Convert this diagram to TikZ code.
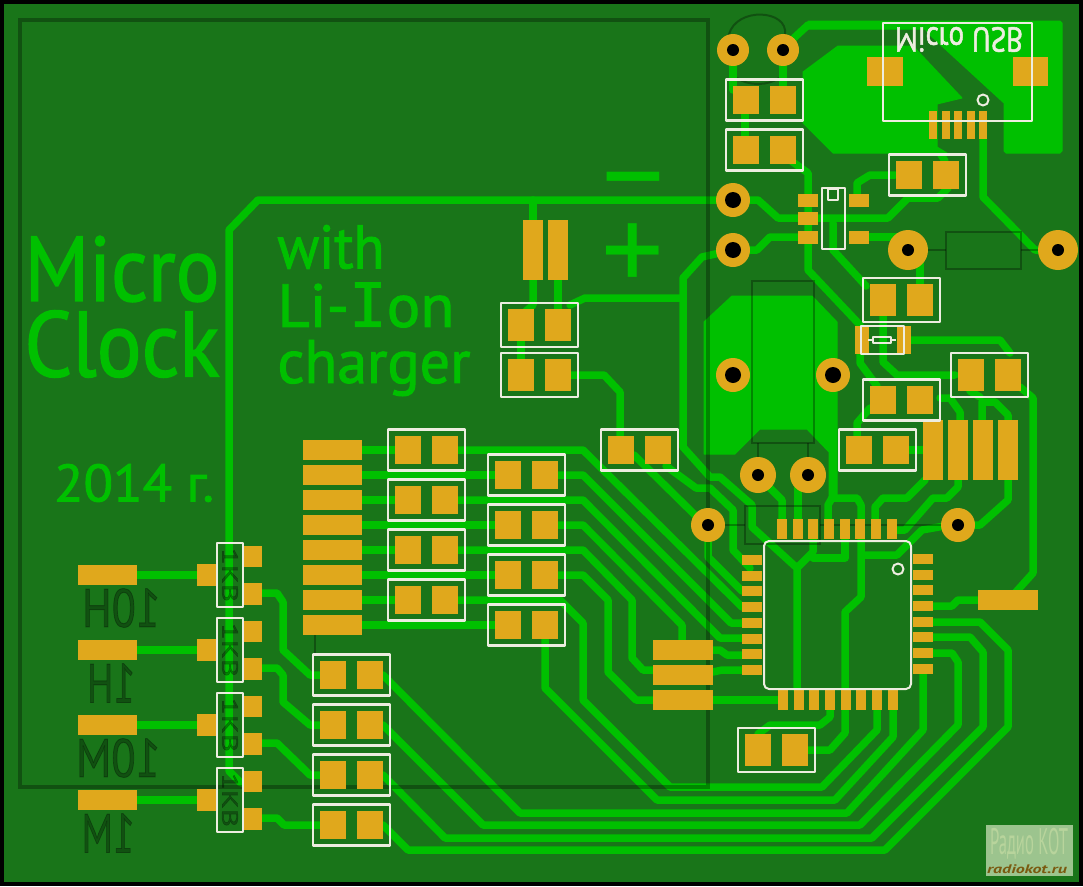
\documentclass[tikz,border=0pt]{standalone}
\usepackage{fontspec}
\usepackage{graphicx}
\setmainfont{PT Sans}
\newfontfamily\stroked[FakeBold=1.6]{PT Sans}
\newfontfamily\strokedI[FakeBold=1.2]{DejaVu Sans Mono}
\definecolor{board}{HTML}{197519}
\definecolor{copper}{HTML}{00C000}
\definecolor{padc}{HTML}{E0A81C}
\definecolor{silk}{HTML}{EDEDE0}
\definecolor{darkg}{HTML}{0B5F0B}
\definecolor{wm}{HTML}{9CC48E}
\definecolor{wmt}{HTML}{B8D49C}
\definecolor{wmb}{HTML}{7A5A10}
\tikzset{
  tr/.style={draw=copper,line width=7.5pt,line join=round,line cap=round},
  fillc/.style={fill=copper,draw=copper,line width=1pt,line join=round},
  dk/.style={draw=black,draw opacity=.3,line width=3.5pt},
  dkthin/.style={draw=black,draw opacity=.3,line width=2pt},
  padf/.style={fill=padc},
  silkl/.style={draw=silk,line width=2.4pt,line join=round},
  txt/.style={inner sep=0pt,outer sep=0pt,anchor=center},
  dktxt/.style={inner sep=0pt,outer sep=0pt,anchor=center,text=black,opacity=.3}
}
% rectangle pad
\newcommand{\pd}[4]{\fill[padf] (#1,#2) rectangle (#3,#4);}
% pads of a two-pad part, and its outline; #1 left edge, #2 centre y, #3 half pad height, #4 half box height
\newcommand{\pairpads}[4]{%
  \pgfmathsetmacro{\pa}{#1+7}\pgfmathsetmacro{\pb}{#1+33}\pgfmathsetmacro{\pc}{#1+44}\pgfmathsetmacro{\pe}{#1+70}%
  \pgfmathsetmacro{\pt}{#2-#3}\pgfmathsetmacro{\pu}{#2+#3}%
  \pd{\pa}{\pt}{\pb}{\pu}\pd{\pc}{\pt}{\pe}{\pu}}
\newcommand{\pairbox}[4]{%
  \pgfmathsetmacro{\pa}{#1+77}\pgfmathsetmacro{\pt}{#2-#4}\pgfmathsetmacro{\pu}{#2+#4}%
  \draw[silkl] (#1,\pt) rectangle (\pa,\pu);}
% through hole
\newcommand{\hole}[4]{\fill[padc] (#1,#2) circle[radius=#3]; \fill[black] (#1,#2) circle[radius=#4];}
% stretched text: name, cx, cy, w, h, colour, text
\newcommand{\tx}[7]{\node[txt,text=#6] (#1) at (#2,#3) {\resizebox*{#4pt}{#5pt}{#7}};}
\begin{document}
\begin{tikzpicture}[x=1pt,y=-1pt]
\useasboundingbox (0,0) rectangle (1083,886);
\fill[black] (0,0) rectangle (1083,886);
\fill[board] (4,4) rectangle (1079,882);

% copper fills
\path[fillc] (803,72) -- (838,46) -- (913,46) -- (962,98) -- (937,104) -- (937,147) -- (947,153) -- (833,153) -- (803,123) -- cycle;
\path[fillc] (808,21) -- (1060,21) -- (1062,23) -- (1062,151) -- (1060,153) -- (1006,153) -- (1004,151) -- (1004,103) -- (931,36) -- (925,29) -- (808,29) -- cycle;
\path[fillc] (704,322) -- (732,296) -- (812,296) -- (837,322) -- (837,500) -- (829,500) -- (829,452) -- (807,429) -- (760,429) -- (735,454) -- (704,454) -- cycle;

% traces: top right
\draw[tr] (783,50) -- (795,37) -- (808,25) -- (900,25);
\draw[tr] (733,50) -- (733,90);
\draw[tr] (783,50) -- (783,90);
\draw[tr] (745,110) -- (745,140);
\draw[tr] (790,160) -- (808,173) -- (808,270) -- (860,325) -- (860,363) -- (877,386);
\draw[tr] (833,223) -- (833,250) -- (866,286);
\draw[tr] (818,218) -- (888,218) -- (908,198) -- (938,198) -- (948,188);
\draw[tr] (733,200) -- (758,200) -- (778,218) -- (800,218);
\draw[tr] (733,250) -- (757,250) -- (770,237) -- (800,237);
\draw[tr] (857,197) -- (857,183) -- (870,175) -- (895,175);
\draw[tr] (869,237) -- (908,237);
\draw[tr] (920,250) -- (920,284);
\draw[tr] (983,135) -- (983,197) -- (1035,250) -- (1058,250);
\draw[tr] (940,153) -- (945,161);
% battery and left rail
\draw[tr] (733,200) -- (258,200) -- (229,230) -- (229,771) -- (241,783) -- (250,783);
\draw[tr] (533,200) -- (533,220);
\draw[tr] (533,280) -- (533,305) -- (525,312);
\draw[tr] (558,280) -- (558,309);
\draw[tr] (521,341) -- (521,359);
\draw[tr] (570,305) -- (585,298) -- (681,298);
\draw[tr] (733,250) -- (702,257) -- (683,278) -- (683,447) -- (710,477) -- (720,477) -- (752,505) -- (752,527) -- (797,568) -- (797,690);
\draw[tr] (571,375) -- (604,375) -- (620,392) -- (620,436);
% charger area
\draw[tr] (883,316) -- (883,362) -- (897,375) -- (955,375);
\draw[tr] (910,340) -- (1000,340) -- (1010,353);
\draw[tr] (857,436) -- (857,423) -- (870,408);
\draw[tr] (908,450) -- (923,450);
\draw[tr] (940,398) -- (950,398) -- (960,412) -- (960,420);
\draw[tr] (982,420) -- (982,402) -- (995,402) -- (1008,415) -- (1008,420);
\draw[tr] (970,391) -- (980,397);
\draw[tr] (1020,387) -- (1033,398) -- (1033,573) -- (1015,593);
\draw[tr] (933,606) -- (952,606) -- (958,600) -- (978,600);
\draw[tr] (1008,480) -- (1008,500) -- (980,525) -- (958,525);
% top pins
\draw[tr] (770,488) -- (782,500) -- (782,520);
\draw[tr] (798,480) -- (798,520);
\draw[tr] (813,538) -- (813,552) -- (797,568);
\draw[tr] (813,558) -- (845,558) -- (845,538);
\draw[tr] (832,498) -- (828,505) -- (828,520);
\draw[tr] (832,498) -- (857,498) -- (861,505) -- (861,597) -- (845,612) -- (845,733) -- (830,750) -- (808,750);
\draw[tr] (865,555) -- (897,555) -- (910,542) -- (922,530) -- (950,525);
\draw[tr] (875,520) -- (875,507) -- (883,498) -- (907,498) -- (925,480);
\draw[tr] (893,530) -- (905,530) -- (933,498) -- (947,498) -- (958,487) -- (958,480);
% bus to the bottom
\draw[tr] (925,622) -- (980,622) -- (1008,650) -- (1008,727) -- (885,850) -- (408,850) -- (383,825);
\draw[tr] (925,637) -- (970,637) -- (983,652) -- (983,727) -- (872,838) -- (445,838) -- (383,775);
\draw[tr] (925,653) -- (952,653) -- (958,662) -- (958,725) -- (860,825) -- (483,825) -- (383,725);
\draw[tr] (923,669) -- (923,730) -- (847,813) -- (520,813) -- (383,675);
\draw[tr] (893,705) -- (893,737) -- (835,800) -- (657,800) -- (545,688) -- (545,632);
\draw[tr] (877,705) -- (877,730) -- (822,787) -- (670,787) -- (583,700) -- (583,623) -- (560,600) -- (458,600);
\draw[tr] (830,705) -- (830,717) -- (820,725) -- (770,725) -- (758,734);
\draw[tr] (783,700) -- (713,700);
% parallel bus to the connector and the chip
\draw[tr] (362,450) -- (395,450);
\draw[tr] (458,450) -- (583,450) -- (742,607) -- (750,607);
\draw[tr] (362,475) -- (495,475);
\draw[tr] (558,475) -- (583,475) -- (731,623) -- (750,623);
\draw[tr] (362,500) -- (395,500);
\draw[tr] (458,500) -- (583,500) -- (720,638) -- (750,638);
\draw[tr] (362,525) -- (495,525);
\draw[tr] (558,525) -- (583,525) -- (682,625) -- (682,640);
\draw[tr] (362,550) -- (395,550);
\draw[tr] (458,550) -- (583,550) -- (632,600) -- (632,658) -- (643,670) -- (653,670);
\draw[tr] (362,575) -- (495,575);
\draw[tr] (558,575) -- (583,575) -- (608,600) -- (608,672) -- (636,700) -- (653,700);
\draw[tr] (362,600) -- (395,600);
\draw[tr] (362,625) -- (495,625);
\draw[tr] (713,650) -- (720,650) -- (727,655) -- (750,655);
\draw[tr] (713,672) -- (722,670) -- (750,670);
\draw[tr] (666,466) -- (696,488) -- (710,488) -- (733,510) -- (733,550) -- (750,568);
\draw[tr] (634,455) -- (700,520);
\draw[tr] (708,525) -- (708,557) -- (742,591) -- (750,591);
% display drivers
\draw[tr] (137,575) -- (197,575);
\draw[tr] (137,650) -- (197,650);
\draw[tr] (137,725) -- (197,725);
\draw[tr] (137,800) -- (197,800);
\draw[tr] (262,593) -- (277,593) -- (283,602) -- (283,650) -- (310,675) -- (325,675);
\draw[tr] (262,668) -- (277,668) -- (283,675) -- (283,702) -- (310,725) -- (325,725);
\draw[tr] (262,743) -- (277,743) -- (310,775) -- (325,775);
\draw[tr] (262,818) -- (277,818) -- (284,825) -- (325,825);

% copper text
\tx{tMicro}{122}{269}{195}{66}{copper}{\stroked Micro}
\tx{tClock}{122}{344}{195}{67}{copper}{\stroked Clock}
\tx{tWith}{331}{247}{107}{44}{copper}{\stroked with}
\tx{tLiIon}{366}{305}{177}{45}{copper}{\stroked Li-{\strokedI I}on}
\tx{tCharger}{374}{368}{193}{56}{copper}{\stroked charger}
\tx{tYear}{134}{483}{160}{38}{copper}{\stroked 2014 г.}
\node[txt,text=copper,font=\fontsize{124}{124}\selectfont] (tPlus) at (633,258) {+};
\node[txt,text=copper,font=\fontsize{124}{124}\selectfont] (tMinus) at (633,192) {–};

% outlines of parts on the other side
\draw[dk] (20,20) rectangle (708,787);
\draw[dkthin] (315,635) -- (315,654);
\draw[dkthin] (752,281) rectangle (814,443);
\draw[dkthin] (758,443) -- (758,460);
\draw[dkthin] (808,443) -- (808,460);
\draw[dkthin] (745,506) rectangle (820,544);
\draw[dkthin] (722,525) -- (745,525);
\draw[dkthin] (820,525) -- (944,525);
\draw[dkthin] (946,232) rectangle (1021,269);
\draw[dkthin] (926,250) -- (946,250);
\draw[dkthin] (1021,250) -- (1040,250);
\draw[dkthin] (728,40) .. controls (730,8) and (782,8) .. (785,30) -- (785,36);
\draw[dkthin] (737,78) .. controls (748,86) and (768,86) .. (779,78);
\node[dktxt] (tH10) at (121,608) {\reflectbox{\resizebox*{78pt}{39pt}{\stroked 10H}}};
\node[dktxt] (tH1) at (111,683) {\reflectbox{\resizebox*{48pt}{39pt}{\stroked 1H}}};
\node[dktxt] (tM10) at (118,758) {\reflectbox{\resizebox*{84pt}{39pt}{\stroked 10M}}};
\node[dktxt] (tM1) at (108,833) {\reflectbox{\resizebox*{53pt}{39pt}{\stroked 1M}}};
\node[dktxt,rotate=-90] (tR1) at (230,575) {\resizebox*{54pt}{16pt}{\stroked 1KB}};
\node[dktxt,rotate=-90] (tR2) at (230,650) {\resizebox*{54pt}{16pt}{\stroked 1KB}};
\node[dktxt,rotate=-90] (tR3) at (230,725) {\resizebox*{54pt}{16pt}{\stroked 1KB}};
\node[dktxt,rotate=-90] (tR4) at (230,800) {\resizebox*{54pt}{16pt}{\stroked 1KB}};

% pads: two-pad parts
\foreach \l/\c in {726/100,726/150,889/175,863/400,839/450,388/450,388/500,388/550,388/600,488/475,488/525,488/575,488/625,601/450,313/675,313/725,313/775,313/825}{\pairpads{\l}{\c}{14}{20.5}}
\foreach \l/\c in {863/300,951/375,501/325,501/375,738/750}{\pairpads{\l}{\c}{16}{22}}
% pads: connectors
\foreach \y in {450,475,500,525,550,575,600,625}{\pd{303}{\y-10}{362}{\y+10}}
\foreach \y in {575,650,725,800}{\pd{78}{\y-10}{137}{\y+10}\pd{197}{\y-11}{217}{\y+11}\pd{242}{\y-29}{262}{\y-8}\pd{242}{\y+8}{262}{\y+30}}
\foreach \y in {650,675,700}{\pd{653}{\y-10}{713}{\y+10}}
\foreach \x in {923,948,973,998}{\pd{\x}{420}{\x+20}{480}}
\pd{523}{220}{543}{280}\pd{548}{220}{568}{280}
\pd{978}{590}{1038}{610}
% chip pins
\foreach \y in {560,576,591,607,623,639,654,670}{\pd{742}{\y-5}{762}{\y+5}}
\foreach \y in {559,575,590,606,622,637,653,669}{\pd{913}{\y-5}{933}{\y+5}}
\foreach \x in {783,799,814,830,846,861,877,893}{\pd{\x-5}{690}{\x+5}{710}}
\foreach \x in {782,798,813,829,845,860,876,892}{\pd{\x-5}{519}{\x+5}{539}}
% USB
\pd{867}{57}{903}{86}\pd{1013}{57}{1048}{86}
\foreach \x in {933,945.7,958,970.6,983}{\pd{\x-4}{111}{\x+4}{139}}
% SOT
\pd{798}{194}{818}{207}\pd{798}{212}{818}{225}\pd{798}{231}{818}{244}\pd{849}{194}{869}{207}\pd{849}{231}{869}{244}
% small resistor
\pd{855}{326}{869}{354}\pd{897}{326}{911}{354}

% through holes
\hole{733}{50}{16}{6}\hole{783}{50}{16}{6}
\hole{733}{200}{17}{8}\hole{733}{250}{17}{8}
\hole{908}{250}{20}{6}\hole{1058}{250}{20}{6}
\hole{733}{375}{17}{8}\hole{833}{375}{17}{8}
\hole{758}{475}{18}{6}\hole{808}{475}{18}{6}
\hole{708}{525}{17}{6}\hole{958}{525}{17}{6}

% silkscreen
\foreach \l/\c in {726/100,726/150,889/175,863/400,839/450,388/450,388/500,388/550,388/600,488/475,488/525,488/575,488/625,601/450,313/675,313/725,313/775,313/825}{\pairbox{\l}{\c}{14}{20.5}}
\foreach \l/\c in {863/300,951/375,501/325,501/375,738/750}{\pairbox{\l}{\c}{16}{22}}
\foreach \y in {575,650,725,800}{\draw[silkl,line width=2pt] (217,\y-32) rectangle (243,\y+32);}
\draw[silkl,line width=2pt,rounded corners=5pt] (764,541) rectangle (911,689);
\draw[silkl,line width=2pt] (898,569) circle[radius=5.5];
\draw[silkl,line width=2pt] (883,23) rectangle (1032,121);
\draw[silkl,line width=2pt] (983,100) circle[radius=5.5];
\draw[silkl] (822,188) rectangle (845,249);
\draw[silkl,line width=2pt] (828,189) rectangle (838,200);
\draw[silkl,line width=1.2pt] (861,326) rectangle (904,354);
\draw[silkl,line width=1.2pt] (873,337) rectangle (891,343);
\draw[silkl,line width=1.2pt] (868,340) -- (873,340);
\draw[silkl,line width=1.2pt] (891,340) -- (896,340);
\node[txt,text=silk] (tUsb) at (959,39.5) {\scalebox{1}[-1]{\resizebox*{128pt}{25pt}{\stroked Micro USB}}};

% watermark
\fill[wm] (986,825) rectangle (1073,876);
\tx{tWm}{1029}{844}{78}{31}{wmt}{Радио КОТ}
\tx{tWmB}{1027}{869}{80}{9}{wmb}{\itshape\bfseries radiokot.ru}
\end{tikzpicture}
\end{document}
